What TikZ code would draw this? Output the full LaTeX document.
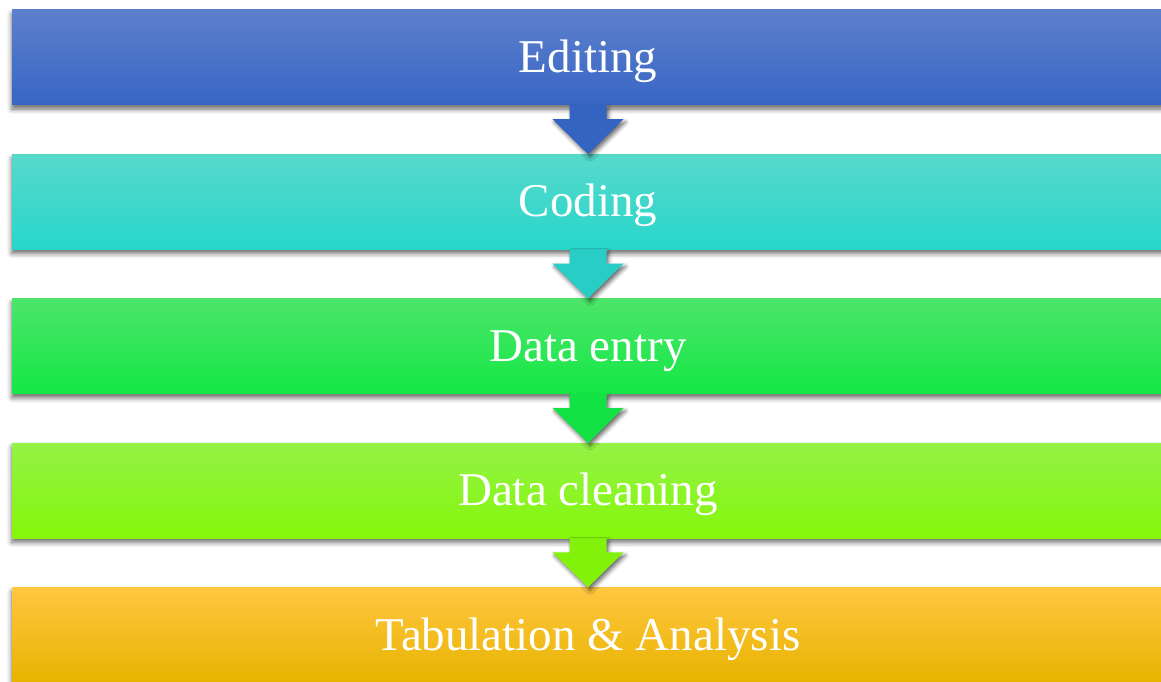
\documentclass[tikz,border=0pt]{standalone}
\usepackage{fontspec}
\setmainfont{Liberation Serif}
\usepackage{tikz}
\usetikzlibrary{positioning,calc,shadows.blur}

\definecolor{editTop}{RGB}{93,128,204}
\definecolor{editBot}{RGB}{56,101,196}
\definecolor{editArr}{RGB}{52,100,193}
\definecolor{codeTop}{RGB}{86,217,203}
\definecolor{codeBot}{RGB}{40,214,203}
\definecolor{codeArr}{RGB}{40,205,197}
\definecolor{entryTop}{RGB}{76,229,106}
\definecolor{entryBot}{RGB}{20,232,69}
\definecolor{entryArr}{RGB}{18,226,67}
\definecolor{cleanTop}{RGB}{148,242,70}
\definecolor{cleanBot}{RGB}{132,247,10}
\definecolor{cleanArr}{RGB}{131,242,10}
\definecolor{tabTop}{RGB}{255,198,64}
\definecolor{tabMid}{RGB}{255,199,0}
\definecolor{tabBot}{RGB}{232,180,0}

% block arrow from the bottom of one stage to the top of the next
\newcommand{\stagearrow}[3]{%
  \fill[#3, blur shadow={shadow xshift=2pt, shadow yshift=-3pt, shadow blur radius=4pt, shadow opacity=60}]
    ($(#1.south)+(-18.5,0)$) -- ($(#1.south)+(-18.5,-14)$) -- ($(#1.south)+(-35.5,-14)$)
    -- (#2.north) -- ($(#1.south)+(35.5,-14)$) -- ($(#1.south)+(18.5,-14)$)
    -- ($(#1.south)+(18.5,0)$) -- cycle;}

\begin{document}
\begin{tikzpicture}[x=1pt, y=1pt, node distance=49pt,
  stage/.style={rectangle, minimum width=1152pt, minimum height=95pt, inner sep=0pt,
    text height=30pt, text depth=0pt, text=white,
    font=\fontsize{47}{50}\selectfont,
    blur shadow={shadow xshift=0pt, shadow yshift=-4pt, shadow blur radius=5pt, shadow opacity=60}}]

\useasboundingbox (0,0) rectangle (1161,-682);

\node[stage, top color=editTop, bottom color=editBot] (edit) at (588,-57.5) {Editing};
\node[stage, top color=codeTop, bottom color=codeBot, below = of edit] (code) {Coding};
\node[stage, top color=entryTop, bottom color=entryBot, below = of code] (entry) {Data entry};
\node[stage, top color=cleanTop, bottom color=cleanBot, below = of entry] (clean) {Data cleaning};
\node[stage, top color=tabTop, middle color=tabMid, bottom color=tabBot, below = of clean] (tab) {Tabulation \& Analysis};

\stagearrow{edit}{code}{editArr}
\stagearrow{code}{entry}{codeArr}
\stagearrow{entry}{clean}{entryArr}
\stagearrow{clean}{tab}{cleanArr}
\end{tikzpicture}
\end{document}
